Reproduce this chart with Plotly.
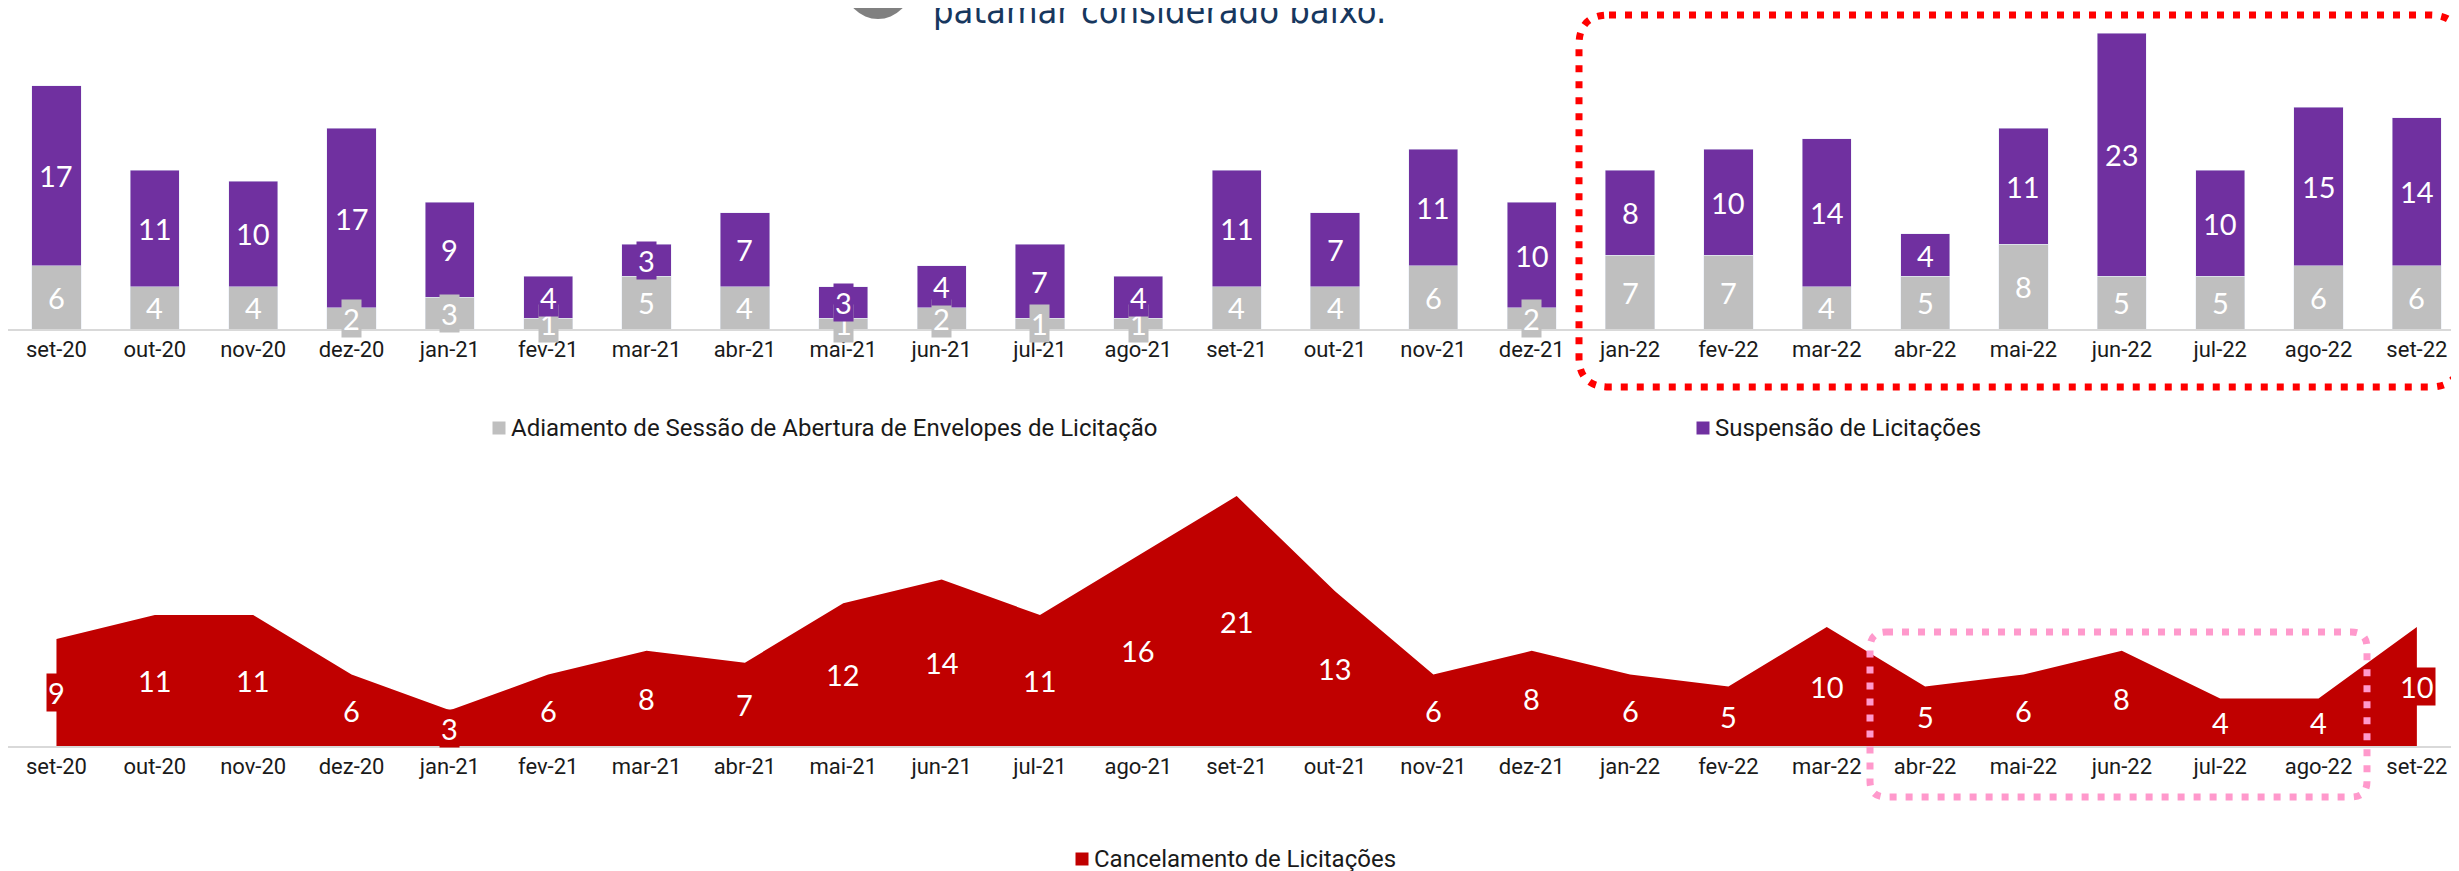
import plotly.graph_objects as go

W, H = 2459, 871
OFF = 8  # the page body adds an 8px margin, so page positions are shifted

months = ["set-20", "out-20", "nov-20", "dez-20", "jan-21", "fev-21", "mar-21", "abr-21",
          "mai-21", "jun-21", "jul-21", "ago-21", "set-21", "out-21", "nov-21", "dez-21",
          "jan-22", "fev-22", "mar-22", "abr-22", "mai-22", "jun-22", "jul-22", "ago-22", "set-22"]
adiamento = [6, 4, 4, 2, 3, 1, 5, 4, 1, 2, 1, 1, 4, 4, 6, 2, 7, 7, 4, 5, 8, 5, 5, 6, 6]
suspensao = [17, 11, 10, 17, 9, 4, 3, 7, 3, 4, 7, 4, 11, 7, 11, 10, 8, 10, 14, 4, 11, 23, 10, 15, 14]
cancelamento = [9, 11, 11, 6, 3, 6, 8, 7, 12, 14, 11, 16, 21, 13, 6, 8, 6, 5, 10, 5, 6, 8, 4, 4, 10]

name_adi = "Adiamento de Sessão de Abertura de Envelopes de Licitação"
name_sus = "Suspensão de Licitações"
name_can = "Cancelamento de Licitações"

GRAY = "#BFBFBF"
PURPLE = "#7030A0"
RED = "#C00000"

LABEL_FONT = "Lato, Open Sans, sans-serif"
TEXT_FONT = "Roboto, Open Sans, sans-serif"
LABEL_SIZE = 29


def px(x):
    return (x - OFF) / W


def py(y):
    return 1 - (y - OFF) / H


fig = go.Figure()
fig.add_trace(go.Bar(x=months, y=adiamento, name=name_adi, marker_color=GRAY,
                     xaxis="x", yaxis="y", showlegend=False))
fig.add_trace(go.Bar(x=months, y=suspensao, name=name_sus, marker_color=PURPLE,
                     xaxis="x", yaxis="y", showlegend=False))
fig.add_trace(go.Scatter(x=months, y=cancelamento, name=name_can, mode="none",
                         fill="tozeroy", fillcolor=RED, xaxis="x2", yaxis="y2",
                         showlegend=False))

annotations = []
for m, g, s in zip(months, adiamento, suspensao):
    annotations.append(dict(x=m, y=g / 2, xref="x", yref="y", text=str(g), showarrow=False,
                            font=dict(family=LABEL_FONT, size=LABEL_SIZE, color="white"),
                            bgcolor=GRAY, borderpad=1))
    annotations.append(dict(x=m, y=g + s / 2, xref="x", yref="y", text=str(s), showarrow=False,
                            font=dict(family=LABEL_FONT, size=LABEL_SIZE, color="white"),
                            bgcolor=PURPLE, borderpad=1))
for m, c in zip(months, cancelamento):
    annotations.append(dict(x=m, y=c / 2, xref="x2", yref="y2", text=str(c), showarrow=False,
                            font=dict(family=LABEL_FONT, size=LABEL_SIZE, color="white"),
                            bgcolor=RED, borderpad=1))

# legends (drawn as text + square swatches)
legend_items = [(name_adi, GRAY, 499, 428), (name_sus, PURPLE, 1703, 428), (name_can, RED, 1082, 859)]
shapes = []
for txt, col, cx, cy in legend_items:
    shapes.append(dict(type="rect", xref="paper", yref="paper",
                       x0=px(cx - 6.5), x1=px(cx + 6.5), y0=py(cy + 6.5), y1=py(cy - 6.5),
                       fillcolor=col, line=dict(width=0)))
    annotations.append(dict(x=px(cx + 10), y=py(cy), xref="paper", yref="paper", text=txt,
                            showarrow=False, xanchor="left", yanchor="middle",
                            font=dict(family=TEXT_FONT, size=24, color="#1a1a1a")))

# cropped heading at the top
annotations.append(dict(x=px(931), y=py(33), xref="paper", yref="paper",
                        text="patamar considerado baixo.", showarrow=False,
                        xanchor="left", yanchor="bottom",
                        font=dict(family="DejaVu Sans Condensed, DejaVu Sans, sans-serif",
                                  size=36, color="#17375E")))
shapes.append(dict(type="circle", xref="paper", yref="paper",
                   x0=px(845), x1=px(911), y0=py(19), y1=py(-47),
                   fillcolor="#808080", line=dict(width=0)))


def rounded_rect(x0, y0, x1, y1, r):
    pts = [
        f"M{px(x0 + r)},{py(y0)}",
        f"L{px(x1 - r)},{py(y0)}",
        f"Q{px(x1)},{py(y0)} {px(x1)},{py(y0 + r)}",
        f"L{px(x1)},{py(y1 - r)}",
        f"Q{px(x1)},{py(y1)} {px(x1 - r)},{py(y1)}",
        f"L{px(x0 + r)},{py(y1)}",
        f"Q{px(x0)},{py(y1)} {px(x0)},{py(y1 - r)}",
        f"L{px(x0)},{py(y0 + r)}",
        f"Q{px(x0)},{py(y0)} {px(x0 + r)},{py(y0)}",
        "Z",
    ]
    return " ".join(pts)


shapes.append(dict(type="path", xref="paper", yref="paper", layer="above",
                   path=rounded_rect(1579, 15, 2460, 387, 30),
                   line=dict(color="#FF0000", width=7, dash="7px,9px")))
shapes.append(dict(type="path", xref="paper", yref="paper", layer="above",
                   path=rounded_rect(1870, 632, 2367, 797, 16),
                   line=dict(color="#FF99CC", width=7, dash="7px,9px")))

# category centres: set-20 at page x 56.5, spacing ~98.35 px
plot_left_page = OFF  # figure left edge on the page
spacing = 98.35
x_start = -0.5 - (56.5 - 49.2 - plot_left_page) / spacing
x_end = x_start + W / spacing
xcommon = dict(type="category", range=[x_start, x_end], showgrid=False, zeroline=False,
               showline=True, linecolor="#D9D9D9", linewidth=2, ticks="",
               tickfont=dict(family=TEXT_FONT, size=22, color="#1a1a1a"),
               domain=[0, 1], fixedrange=True)

fig.update_layout(
    width=W, height=H,
    margin=dict(l=0, r=0, t=0, b=0),
    paper_bgcolor="white", plot_bgcolor="white",
    barmode="stack", bargap=0.5,
    showlegend=False,
    xaxis=dict(**xcommon, anchor="y"),
    xaxis2=dict(**xcommon, anchor="y2"),
    yaxis=dict(domain=[py(329), 1], range=[0, (329 - OFF) / 10.57], visible=False, fixedrange=True),
    yaxis2=dict(domain=[py(746), py(440)], range=[0, 306 / 11.9], visible=False, fixedrange=True),
    annotations=annotations,
    shapes=shapes,
)

fig.write_html("out.html")
